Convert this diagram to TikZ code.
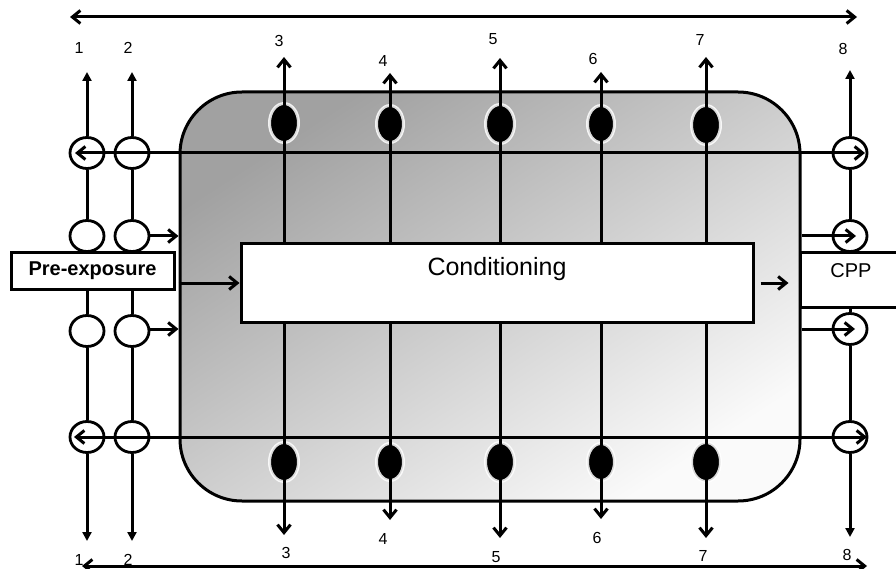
\documentclass[tikz,border=0pt]{standalone}
\usepackage{fontspec}
\setmainfont{Liberation Sans}
\usetikzlibrary{arrows.meta,shapes.geometric}
\begin{document}
\begin{tikzpicture}[x=1pt,y=-1pt,
  ln/.style={line width=3pt},
  barb/.style={ln,-{Straight Barb[length=8pt,width=13pt]}},
  dbl/.style={ln,{Straight Barb[length=8pt,width=13pt]}-{Straight Barb[length=8pt,width=13pt]}},
  tri/.style={ln,-{Triangle[length=9pt,width=9pt]}},
  opencirc/.style={ellipse,draw,line width=2.8pt,fill=white,minimum width=34pt,minimum height=31pt,inner sep=0pt},
  dot/.style={ellipse,fill=black,draw=white,draw opacity=0.85,line width=3pt,minimum width=29pt,minimum height=39pt,inner sep=0pt},
  smalldot/.style={dot,minimum width=27pt,minimum height=37pt},
  boxw/.style={draw,fill=white,line width=3pt},
  num/.style={font=\fontsize{16}{16}\selectfont,inner sep=0pt},
  arenastyle/.style={rectangle,draw,line width=3pt,rounded corners=62pt,
    minimum width=620pt,minimum height=409pt,inner sep=0pt,
    left color=black!37,middle color=black!12,right color=black!2,shading angle=33}
]
\useasboundingbox (0,0) rectangle (896,569);
\clip (0,0) rectangle (896,569);

% shaded arena
\node[arenastyle] (arena) at (490,296.5) {};

% arrow tips of the eight columns
\coordinate (t1) at (87,72);   \coordinate (b1) at (87,541);
\coordinate (t2) at (132,72);  \coordinate (b2) at (132,541);
\coordinate (t3) at (284,57);  \coordinate (b3) at (284,535);
\coordinate (t4) at (390,73);  \coordinate (b4) at (390,520);
\coordinate (t5) at (500,58);  \coordinate (b5) at (500,538);
\coordinate (t6) at (601,72);  \coordinate (b6) at (601,519);
\coordinate (t7) at (706,57);  \coordinate (b7) at (706,538);
\coordinate (t8) at (850,70);  \coordinate (b8) at (850,537);

% black markers inside the arena
\node[dot]      (d3a) at (284,123) {};  \node[dot]      (d3b) at (284,462) {};
\node[smalldot] (d4a) at (390,124) {};  \node[smalldot] (d4b) at (390,462) {};
\node[dot]      (d5a) at (500,124) {};  \node[dot]      (d5b) at (500,462) {};
\node[smalldot] (d6a) at (601,124) {};  \node[smalldot] (d6b) at (601,462) {};
\node[dot]      (d7a) at (706,125) {};  \node[dot]      (d7b) at (706,462) {};

% conditioning box (placed first so the columns can refer to it)
\node[boxw,minimum width=512pt,inner ysep=0pt,text height=31pt,text depth=47pt,
      font=\fontsize{25}{25}\selectfont] (cond) at (497,283) {Conditioning};

% columns 3 to 7
\foreach \k in {3,...,7}{
  \draw[barb] (cond.north -| t\k) -- (t\k);
  \draw[barb] (cond.south -| b\k) -- (b\k);
}

% open circles on columns 1, 2 and 8
\node[opencirc] (c1a) at (87,153) {};  \node[opencirc] (c2a) at (132,153) {};
\node[opencirc] (c1b) at (87,236) {};  \node[opencirc] (c2b) at (132,236) {};
\node[opencirc] (c1c) at (87,331) {};  \node[opencirc] (c2c) at (132,331) {};
\node[opencirc] (c1d) at (87,437) {};  \node[opencirc] (c2d) at (132,437) {};
\node[opencirc] (c8a) at (850,153) {};
\node[opencirc] (c8b) at (850,236) {};
\node[opencirc] (c8c) at (850,329) {};
\node[opencirc] (c8d) at (850,437) {};

% columns 1, 2 and 8
\foreach \k in {1,2,8}{
  \draw[tri] (c\k a.north) -- (t\k);
  \draw[ln] (c\k a.south) -- (c\k b.north);
  \draw[ln] (c\k c.south) -- (c\k d.north);
  \draw[tri] (c\k d.south) -- (b\k);
}

% pre-exposure and CPP boxes
\node[boxw,minimum width=163pt,minimum height=36pt,
      font=\bfseries\fontsize{20}{20}\selectfont] (pre) at (92.5,271) {Pre-exposure};
\node[boxw,minimum width=102pt,inner ysep=0pt,text height=24pt,text depth=30pt,
      font=\fontsize{20}{20}\selectfont] (cpp) at (851,280) {CPP};

\draw[ln] (c1b.south) -- (c1b.south |- pre.north);
\draw[ln] (c2b.south) -- (c2b.south |- pre.north);
\draw[ln] (c1c.north |- pre.south) -- (c1c.north);
\draw[ln] (c2c.north |- pre.south) -- (c2c.north);
\draw[ln] (c8b.south) -- (c8b.south |- cpp.north);
\draw[ln] (c8c.north |- cpp.south) -- (c8c.north);

% long horizontal arrows through the circles
\draw[dbl] ([xshift=-12pt]c1a.center) -- ([xshift=15pt]c8a.center);
\draw[dbl] ([xshift=-13pt]c1d.center) -- ([xshift=17pt]c8d.center);

% short arrows into and out of the arena
\draw[barb] (c2b.east) -- (arena.west |- c2b.east);
\draw[barb] ([yshift=2pt]c2c.east) -- ([yshift=2pt]arena.west |- c2c.east);
\draw[barb] (arena.east |- c8b) -- ([xshift=6pt]c8b.center);
\draw[barb] (arena.east |- c8c) -- ([xshift=5pt]c8c.center);
\draw[barb] (arena.west |- cond.west) -- (cond.west);
\draw[barb] ([xshift=6pt]cond.east) -- ([xshift=34pt]cond.east);

% top and bottom double arrows
\coordinate (topL) at (70,17);  \coordinate (topR) at (857,17);
\coordinate (botL) at (82,566); \coordinate (botR) at (867,566);
\draw[dbl] (topL) -- (topR);
\draw[dbl] (botL) -- (botR);

% column numbers
\node[num] (n1t) at (79,48) {1};
\node[num] (n2t) at (128,48) {2};
\node[num] (n3t) at (279,41) {3};
\node[num] (n4t) at (383,61) {4};
\node[num] (n5t) at (493,39) {5};
\node[num] (n6t) at (593,59) {6};
\node[num] (n7t) at (700,40) {7};
\node[num] (n8t) at (843,49) {8};
\node[num] (n1b) at (79,560) {1};
\node[num] (n2b) at (128,560) {2};
\node[num] (n3b) at (286,553) {3};
\node[num] (n4b) at (383,539) {4};
\node[num] (n5b) at (496,557) {5};
\node[num] (n6b) at (597,538) {6};
\node[num] (n7b) at (703,556) {7};
\node[num] (n8b) at (847,555) {8};
\end{tikzpicture}
\end{document}
